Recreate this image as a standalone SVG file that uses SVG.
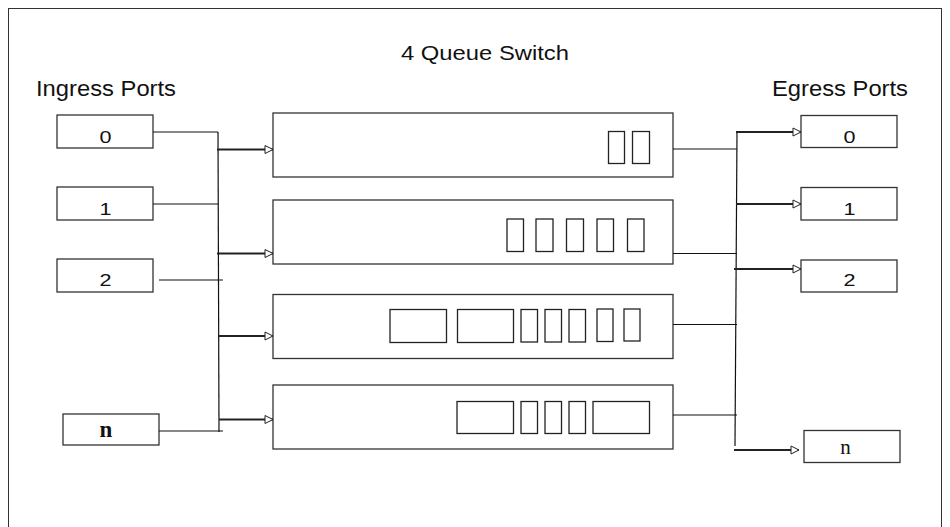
<svg xmlns="http://www.w3.org/2000/svg" width="950" height="527" viewBox="0 0 950 527">
<defs>
<style>
.frame{fill:none;stroke:#333;stroke-width:1}
.box{fill:#fff;stroke:#333;stroke-width:1.3}
.cell{fill:#fff;stroke:#222;stroke-width:1.3}
.wire{fill:none;stroke:#111;stroke-width:1.2}
.arr{fill:none;stroke:#222;stroke-width:2.2;marker-end:url(#ah)}
.lbl{font-family:"Liberation Sans",Arial,sans-serif;fill:#111}
.num{font-family:"Liberation Sans",Arial,sans-serif;font-size:16px;fill:#111;text-anchor:middle}
.ser{font-family:"Liberation Serif","Times New Roman",serif;fill:#111;text-anchor:middle}
</style>
<marker id="ah" markerUnits="userSpaceOnUse" markerWidth="12" markerHeight="12" viewBox="0 0 12 12" refX="10" refY="6" orient="auto">
<path d="M2,2 L10,6 L2,10 Z" fill="#fff" stroke="#222" stroke-width="1"/>
</marker>
</defs>
<rect class="frame" x="8.5" y="8.5" width="933" height="540"/>
<text class="lbl" x="401" y="60" font-size="21" textLength="168" lengthAdjust="spacingAndGlyphs">4 Queue Switch</text>
<text class="lbl" x="36" y="96" font-size="22" textLength="140" lengthAdjust="spacingAndGlyphs">Ingress Ports</text>
<text class="lbl" x="772" y="96" font-size="22" textLength="136" lengthAdjust="spacingAndGlyphs">Egress Ports</text>

<g id="in0"><rect class="box" x="57" y="115" width="96" height="33"/><text class="num" transform="translate(105.5,142.5) scale(1.35,1)">0</text></g>
<g id="in1"><rect class="box" x="57" y="187" width="96" height="33"/><text class="num" transform="translate(105.5,214.5) scale(1.35,1)">1</text></g>
<g id="in2"><rect class="box" x="57" y="259" width="96" height="33"/><text class="num" transform="translate(105.5,286) scale(1.35,1)">2</text></g>
<g id="inn"><rect class="box" x="63" y="414" width="96" height="31"/><text class="ser" x="106" y="437" font-size="23" font-weight="bold">n</text></g>

<g id="q1"><rect class="box" x="273" y="113" width="400" height="64"/>
<rect class="cell" x="608.5" y="131.5" width="16" height="32"/><rect class="cell" x="632.5" y="131.5" width="17" height="32"/></g>
<g id="q2"><rect class="box" x="273" y="200" width="400" height="64"/>
<rect class="cell" x="507" y="219" width="16.5" height="32.5"/><rect class="cell" x="536" y="219" width="17" height="32.5"/><rect class="cell" x="566.5" y="219" width="17" height="32.5"/><rect class="cell" x="597" y="219" width="16.5" height="32.5"/><rect class="cell" x="627.5" y="219" width="16.5" height="32.5"/></g>
<g id="q3"><rect class="box" x="273" y="294.5" width="400" height="64"/>
<rect class="cell" x="390" y="309.5" width="56.5" height="33"/><rect class="cell" x="457.5" y="309.5" width="56" height="33"/><rect class="cell" x="521" y="309.5" width="16.5" height="32.5"/><rect class="cell" x="545" y="309.5" width="16.5" height="32.5"/><rect class="cell" x="569" y="309.5" width="16.5" height="32.5"/><rect class="cell" x="597" y="309" width="16" height="32.5"/><rect class="cell" x="624" y="309" width="16" height="32"/></g>
<g id="q4"><rect class="box" x="273" y="385" width="400" height="64"/>
<rect class="cell" x="457" y="401.5" width="56.5" height="32"/><rect class="cell" x="521" y="401.5" width="16.5" height="32"/><rect class="cell" x="545" y="401.5" width="16.5" height="32"/><rect class="cell" x="569" y="401.5" width="16.5" height="32"/><rect class="cell" x="593" y="401.5" width="56.5" height="32"/></g>

<g id="out0"><rect class="box" x="801" y="115.5" width="96" height="32"/><text class="num" transform="translate(849.5,142.5) scale(1.35,1)">0</text></g>
<g id="out1"><rect class="box" x="801" y="187.5" width="96" height="32.5"/><text class="num" transform="translate(849.5,214.5) scale(1.35,1)">1</text></g>
<g id="out2"><rect class="box" x="801" y="260" width="96" height="32"/><text class="num" transform="translate(849.5,286) scale(1.35,1)">2</text></g>
<g id="outn"><rect class="box" x="804" y="430.5" width="96" height="32"/><text class="ser" x="845.5" y="454" font-size="21">n</text></g>

<g id="connectors">
<line class="wire" x1="153" y1="132" x2="218" y2="132"/>
<line class="wire" x1="153" y1="204" x2="218.5" y2="204"/>
<line class="wire" x1="159" y1="280" x2="223" y2="280"/>
<line class="wire" x1="159" y1="431" x2="223" y2="431"/>
<line class="wire" x1="218" y1="132" x2="219" y2="432"/>
<line class="arr" x1="217" y1="149.5" x2="273" y2="149.5"/>
<line class="arr" x1="217" y1="253.5" x2="273" y2="253.5"/>
<line class="arr" x1="219" y1="336" x2="273" y2="336"/>
<line class="arr" x1="219" y1="419.5" x2="273" y2="419.5"/>
<line class="wire" x1="673" y1="149" x2="737" y2="149"/>
<line class="wire" x1="673" y1="253.5" x2="737" y2="253.5"/>
<line class="wire" x1="673" y1="324.5" x2="737" y2="324.5"/>
<line class="wire" x1="673" y1="415" x2="737" y2="415"/>
<line class="wire" x1="737" y1="132" x2="735" y2="446"/>
<line class="arr" x1="736" y1="132" x2="801" y2="132"/>
<line class="arr" x1="736" y1="204" x2="801" y2="204"/>
<line class="arr" x1="734" y1="269" x2="801" y2="269"/>
<line class="arr" x1="734" y1="450" x2="799" y2="450"/>
</g>
</svg>
